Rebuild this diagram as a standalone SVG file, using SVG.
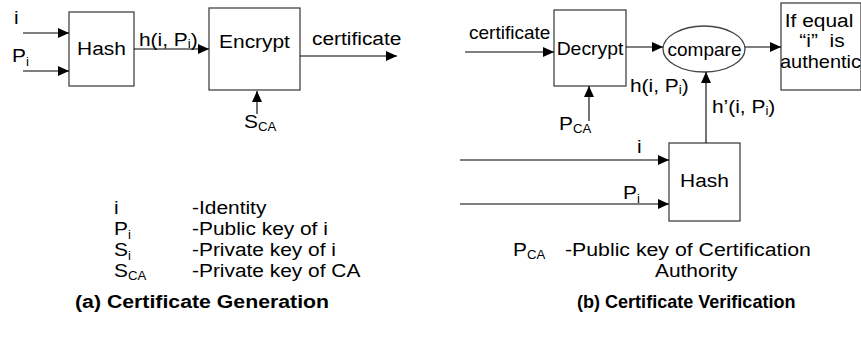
<svg xmlns="http://www.w3.org/2000/svg" width="861" height="343" viewBox="0 0 861 343">
<style>
  .box { fill: #fff; stroke: #444; stroke-width: 1.3; }
  .ln { stroke: #000; stroke-width: 1.1; fill: none; marker-end: url(#ah); }
  text { font-family: "Liberation Sans", Arial, sans-serif; font-size: 19px; fill: #000; }
  .c { text-anchor: middle; }
  .b { font-weight: bold; }
  .s { font-size: 12px; }
</style>
<defs>
  <marker id="ah" markerUnits="userSpaceOnUse" markerWidth="11" markerHeight="10" refX="11" refY="5" orient="auto">
    <path d="M0,0 L11,5 L0,10 Z" fill="#000"/>
  </marker>
</defs>
<rect width="861" height="343" fill="#fff"/>

<!-- (a) Certificate Generation -->
<g id="hash-a">
  <rect class="box" x="69" y="12" width="65" height="74"/>
  <text class="c" transform="translate(101.5 55) scale(1.1 1)">Hash</text>
</g>
<g id="encrypt">
  <rect class="box" x="209" y="8" width="91" height="82"/>
  <text class="c" transform="translate(254.5 48) scale(1.1 1)">Encrypt</text>
</g>

<!-- (b) Certificate Verification -->
<g id="decrypt">
  <rect class="box" x="554" y="10" width="72" height="76"/>
  <text class="c" transform="translate(590 55) scale(1.02 1)">Decrypt</text>
</g>
<g id="compare">
  <ellipse class="box" cx="704" cy="49" rx="41" ry="23"/>
  <text class="c" transform="translate(704.5 56) scale(1.0 1)">compare</text>
</g>
<g id="result">
  <rect class="box" x="781" y="3" width="80" height="87"/>
  <text class="c" transform="translate(819 27) scale(1.1 1)">If equal</text>
  <text class="c" transform="translate(822 47) scale(1.1 1)">“i”&#160; is</text>
  <text class="c" transform="translate(820.5 68) scale(1.05 1)">authentic</text>
</g>
<g id="hash-b">
  <rect class="box" x="669" y="143" width="71" height="78"/>
  <text class="c" transform="translate(704.5 187) scale(1.1 1)">Hash</text>
</g>

<g id="connectors">
  <line class="ln" x1="23" y1="33" x2="69" y2="33"/>
  <line class="ln" x1="23" y1="71" x2="69" y2="71"/>
  <line class="ln" x1="134" y1="49" x2="209" y2="49"/>
  <line class="ln" x1="300" y1="56" x2="397" y2="56"/>
  <line class="ln" x1="257" y1="114" x2="257" y2="91"/>
  <line class="ln" x1="465" y1="52" x2="554" y2="52"/>
  <line class="ln" x1="626" y1="47" x2="663" y2="47"/>
  <line class="ln" x1="745" y1="47" x2="781" y2="47"/>
  <line class="ln" x1="589" y1="121" x2="589" y2="86"/>
  <line class="ln" x1="706" y1="143" x2="706" y2="72"/>
  <line class="ln" x1="460" y1="160" x2="669" y2="160"/>
  <line class="ln" x1="460" y1="204" x2="669" y2="204"/>
</g>

<g id="labels">
  <text transform="translate(14 24) scale(1.1 1)">i</text>
  <text transform="translate(12 62) scale(1.1 1)">P<tspan class="s" dy="4">i</tspan></text>
  <text transform="translate(139 46) scale(1.1 1)">h(i, P<tspan class="s" dy="2">i</tspan><tspan dy="-2">)</tspan></text>
  <text transform="translate(312 45) scale(1.1 1)">certificate</text>
  <text transform="translate(244 128) scale(1.1 1)">S<tspan class="s" dy="3">CA</tspan></text>

  <text transform="translate(469 39) scale(1.0 1)">certificate</text>
  <text transform="translate(630 92) scale(1.1 1)">h(i, P<tspan class="s" dy="2">i</tspan><tspan dy="-2">)</tspan></text>
  <text transform="translate(559 130) scale(1.1 1)">P<tspan class="s" dy="3">CA</tspan></text>
  <text transform="translate(712 113) scale(1.1 1)">h’(i, P<tspan class="s" dy="2">i</tspan><tspan dy="-2">)</tspan></text>
  <text transform="translate(637 153) scale(1.1 1)">i</text>
  <text transform="translate(623 199) scale(1.1 1)">P<tspan class="s" dy="4">i</tspan></text>
</g>

<g id="legend-a">
  <text transform="translate(114 214) scale(1.1 1)">i</text>
  <text transform="translate(114 235) scale(1.1 1)">P<tspan class="s" dy="4">i</tspan></text>
  <text transform="translate(114 256) scale(1.1 1)">S<tspan class="s" dy="4">i</tspan></text>
  <text transform="translate(114 277) scale(1.1 1)">S<tspan class="s" dy="3">CA</tspan></text>
  <text transform="translate(192 214) scale(1.1 1)">-Identity</text>
  <text transform="translate(192 235) scale(1.1 1)">-Public key of i</text>
  <text transform="translate(192 256) scale(1.1 1)">-Private key of i</text>
  <text transform="translate(192 277) scale(1.1 1)">-Private key of CA</text>
</g>
<g id="legend-b">
  <text transform="translate(513 256) scale(1.1 1)">P<tspan class="s" dy="3">CA</tspan></text>
  <text transform="translate(565 256) scale(1.12 1)">-Public key of Certification</text>
  <text transform="translate(655 277) scale(1.1 1)">Authority</text>
</g>

<g id="titles">
  <text class="b" transform="translate(75 308) scale(1.12 1)">(a) Certificate Generation</text>
  <text class="b" transform="translate(577 308) scale(0.95 1)">(b) Certificate Verification</text>
</g>
</svg>
